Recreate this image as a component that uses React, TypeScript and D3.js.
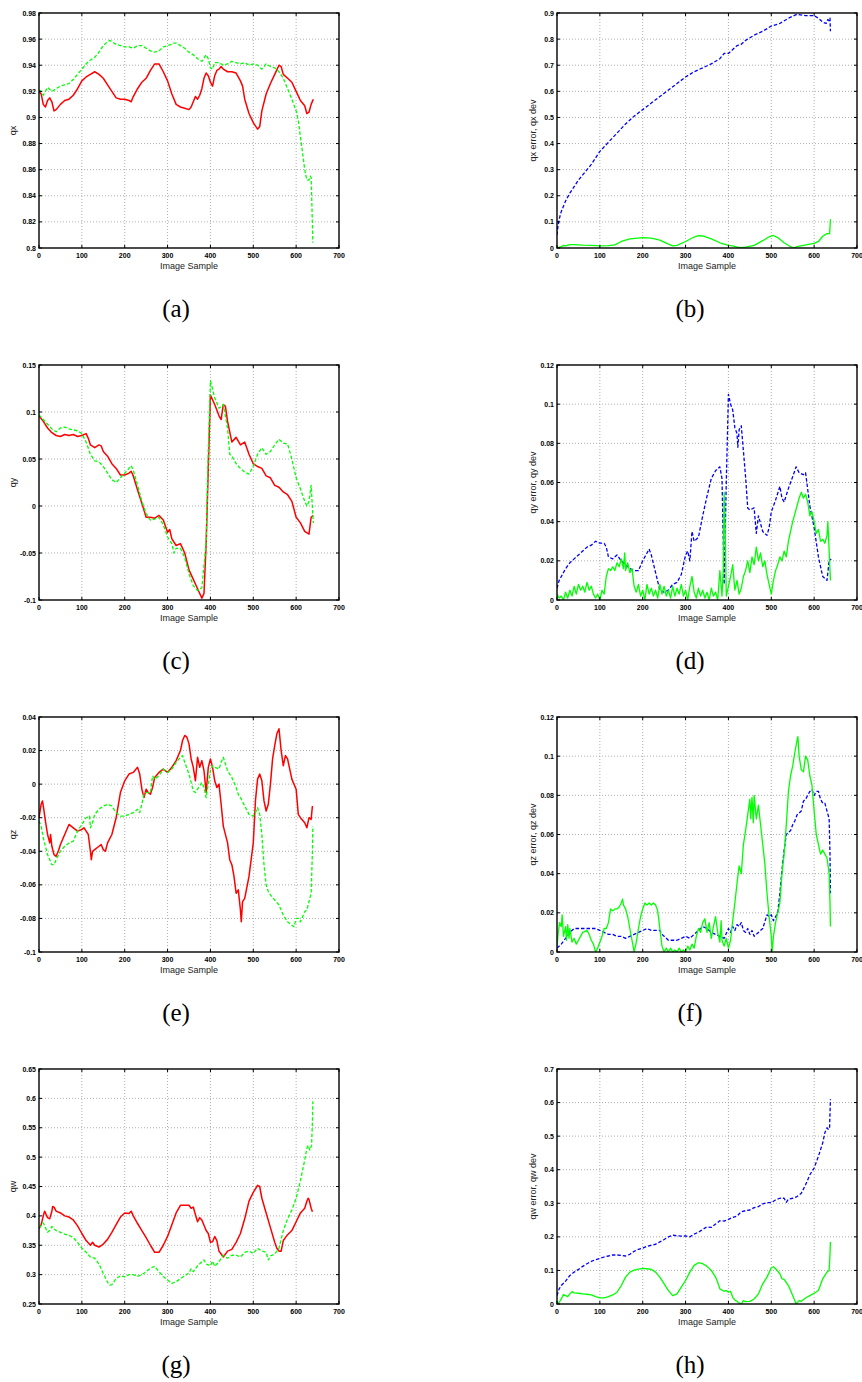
import React from "react";
import * as d3 from "d3";

type P = [number, number];

// ---------- x axis ----------
const xTicks = [0, 100, 200, 300, 400, 500, 600, 700];

// ---------- (a) qx ----------
const qxTicks = [0.8, 0.82, 0.84, 0.86, 0.88, 0.9, 0.92, 0.94, 0.96, 0.98];
const qxEstimate: P[] = [[0,0.920],[5,0.918],[10,0.910],[15,0.908],[20,0.913],[25,0.915],[30,0.912],[35,0.905],[40,0.906],[50,0.910],[60,0.913],[70,0.914],[80,0.917],[90,0.922],[100,0.928],[110,0.931],[120,0.933],[130,0.935],[140,0.933],[150,0.930],[160,0.925],[170,0.920],[180,0.915],[190,0.914],[200,0.914],[210,0.913],[215,0.912],[220,0.916],[230,0.922],[240,0.927],[250,0.930],[260,0.936],[270,0.941],[280,0.941],[290,0.935],[300,0.928],[310,0.918],[320,0.910],[330,0.908],[340,0.907],[350,0.906],[355,0.908],[360,0.912],[365,0.916],[370,0.914],[375,0.917],[380,0.922],[385,0.930],[390,0.934],[395,0.932],[400,0.927],[405,0.924],[410,0.932],[415,0.936],[420,0.937],[425,0.939],[430,0.937],[440,0.935],[450,0.935],[460,0.934],[470,0.928],[475,0.924],[480,0.914],[490,0.903],[500,0.896],[510,0.891],[515,0.893],[520,0.905],[530,0.918],[540,0.926],[550,0.933],[560,0.940],[565,0.939],[570,0.933],[580,0.930],[590,0.927],[600,0.920],[610,0.913],[620,0.909],[625,0.903],[630,0.904],[635,0.910],[640,0.914]];
const qxTruth: P[] = [[0,0.921],[5,0.920],[10,0.917],[15,0.920],[20,0.923],[30,0.920],[40,0.922],[50,0.924],[60,0.925],[70,0.926],[80,0.929],[90,0.933],[100,0.937],[110,0.941],[120,0.944],[130,0.946],[140,0.950],[150,0.955],[160,0.958],[165,0.959],[170,0.958],[180,0.956],[190,0.955],[200,0.954],[210,0.954],[220,0.953],[230,0.955],[240,0.955],[250,0.953],[260,0.951],[270,0.950],[280,0.951],[290,0.954],[300,0.955],[310,0.956],[315,0.957],[320,0.957],[330,0.955],[340,0.953],[350,0.950],[360,0.948],[370,0.945],[380,0.943],[390,0.948],[395,0.945],[400,0.938],[405,0.937],[410,0.942],[420,0.942],[430,0.940],[440,0.941],[450,0.943],[460,0.942],[470,0.941],[480,0.942],[490,0.940],[500,0.941],[510,0.940],[520,0.937],[530,0.941],[540,0.939],[550,0.938],[560,0.935],[570,0.930],[580,0.922],[590,0.914],[600,0.905],[605,0.898],[610,0.885],[615,0.873],[620,0.860],[625,0.852],[630,0.852],[633,0.855],[635,0.854],[637,0.830],[639,0.804]];

// ---------- (b) qx error / dev ----------
const qxErrTicks = [0, 0.1, 0.2, 0.3, 0.4, 0.5, 0.6, 0.7, 0.8, 0.9];
const qxDev: P[] = [[0,0.05],[2,0.08],[5,0.11],[10,0.14],[20,0.18],[30,0.21],[40,0.235],[50,0.26],[60,0.28],[70,0.30],[80,0.32],[90,0.345],[100,0.37],[120,0.405],[140,0.44],[160,0.475],[180,0.505],[200,0.53],[220,0.555],[240,0.58],[260,0.605],[280,0.63],[300,0.655],[320,0.675],[340,0.69],[360,0.705],[380,0.725],[390,0.745],[400,0.745],[410,0.76],[420,0.775],[430,0.78],[440,0.795],[460,0.815],[480,0.83],[500,0.85],[520,0.86],[540,0.88],[560,0.895],[580,0.89],[600,0.89],[610,0.88],[620,0.865],[628,0.86],[632,0.875],[635,0.87],[637,0.88],[638,0.83]];
const qxErr: P[] = [[0,0.0],[10,0.005],[15,0.01],[20,0.008],[30,0.013],[40,0.013],[60,0.011],[80,0.010],[100,0.008],[120,0.009],[135,0.012],[150,0.025],[170,0.035],[200,0.04],[220,0.038],[240,0.03],[260,0.015],[270,0.008],[280,0.01],[300,0.025],[320,0.042],[330,0.047],[340,0.046],[360,0.035],[380,0.02],[400,0.01],[410,0.008],[425,0.001],[440,0.003],[460,0.01],[480,0.028],[495,0.043],[505,0.048],[515,0.04],[530,0.02],[545,0.005],[552,0.0],[560,0.005],[575,0.01],[590,0.015],[600,0.018],[610,0.025],[620,0.045],[630,0.055],[636,0.055],[637,0.08],[638,0.11]];

// ---------- (c) qy ----------
const qyTicks = [-0.1, -0.05, 0, 0.05, 0.1, 0.15];
const qyEstimate: P[] = [[0,0.096],[10,0.090],[20,0.083],[30,0.078],[40,0.075],[50,0.074],[60,0.076],[70,0.075],[80,0.076],[90,0.074],[100,0.075],[110,0.077],[115,0.072],[120,0.065],[130,0.062],[140,0.065],[145,0.064],[150,0.058],[160,0.053],[170,0.045],[180,0.040],[190,0.033],[200,0.033],[210,0.035],[215,0.037],[220,0.032],[230,0.017],[240,0.003],[250,-0.012],[260,-0.012],[270,-0.013],[280,-0.010],[290,-0.015],[300,-0.028],[305,-0.025],[310,-0.035],[320,-0.042],[330,-0.040],[340,-0.050],[350,-0.068],[360,-0.078],[370,-0.088],[380,-0.098],[385,-0.093],[390,-0.04],[395,0.04],[400,0.118],[410,0.108],[420,0.096],[425,0.092],[430,0.108],[435,0.106],[440,0.090],[450,0.068],[460,0.073],[470,0.065],[480,0.068],[490,0.055],[500,0.045],[510,0.042],[520,0.040],[530,0.032],[540,0.030],[550,0.022],[560,0.020],[570,0.015],[580,0.012],[590,0.005],[600,-0.012],[610,-0.018],[620,-0.027],[630,-0.030],[635,-0.012],[640,-0.010]];
const qyTruth: P[] = [[0,0.097],[10,0.092],[20,0.087],[30,0.082],[40,0.079],[50,0.083],[60,0.084],[70,0.082],[80,0.081],[90,0.080],[100,0.077],[110,0.068],[120,0.055],[130,0.048],[140,0.047],[150,0.042],[160,0.035],[170,0.028],[180,0.025],[190,0.030],[200,0.035],[210,0.040],[215,0.043],[220,0.038],[230,0.022],[240,0.005],[250,-0.008],[260,-0.015],[270,-0.014],[280,-0.012],[290,-0.020],[300,-0.033],[310,-0.040],[315,-0.050],[320,-0.045],[330,-0.045],[340,-0.055],[350,-0.072],[360,-0.085],[370,-0.090],[380,-0.087],[390,-0.040],[395,0.060],[400,0.133],[410,0.115],[420,0.104],[430,0.108],[440,0.083],[445,0.055],[450,0.053],[460,0.045],[470,0.040],[480,0.036],[490,0.034],[500,0.042],[510,0.055],[520,0.062],[530,0.055],[540,0.058],[550,0.065],[560,0.071],[570,0.067],[580,0.066],[590,0.050],[600,0.030],[610,0.018],[620,0.005],[625,0.0],[630,0.005],[635,0.022],[640,-0.018]];

// ---------- (d) qy error / dev ----------
const qyErrTicks = [0, 0.02, 0.04, 0.06, 0.08, 0.1, 0.12];
const qyDev: P[] = [[0,0.006],[5,0.010],[10,0.012],[20,0.016],[30,0.019],[40,0.021],[50,0.023],[60,0.025],[70,0.027],[80,0.028],[90,0.030],[100,0.029],[110,0.029],[115,0.027],[120,0.022],[130,0.021],[140,0.023],[150,0.020],[160,0.018],[170,0.016],[180,0.015],[190,0.015],[200,0.020],[210,0.024],[215,0.026],[220,0.023],[230,0.014],[240,0.005],[250,0.004],[260,0.005],[270,0.008],[280,0.009],[290,0.013],[300,0.023],[305,0.025],[310,0.020],[315,0.035],[320,0.030],[330,0.032],[340,0.043],[350,0.053],[360,0.062],[370,0.066],[380,0.068],[385,0.062],[390,0.008],[395,0.060],[400,0.105],[405,0.100],[410,0.097],[415,0.088],[420,0.085],[422,0.078],[425,0.087],[430,0.089],[440,0.063],[445,0.047],[450,0.046],[460,0.047],[465,0.034],[470,0.043],[480,0.035],[490,0.033],[495,0.037],[500,0.045],[510,0.051],[520,0.058],[525,0.052],[530,0.050],[540,0.057],[550,0.063],[558,0.068],[565,0.065],[575,0.064],[580,0.065],[590,0.048],[600,0.037],[610,0.022],[620,0.012],[630,0.010],[635,0.020],[640,0.021]];
const qyErr: P[] = [[0,0.003],[5,0.001],[10,0.002],[15,0.0],[20,0.004],[25,0.001],[30,0.005],[35,0.002],[40,0.007],[45,0.003],[50,0.008],[55,0.005],[60,0.007],[65,0.004],[70,0.009],[75,0.005],[80,0.007],[85,0.003],[90,0.001],[95,0.003],[100,0.0],[105,0.005],[110,0.003],[115,0.012],[120,0.016],[125,0.015],[130,0.017],[135,0.015],[140,0.019],[145,0.017],[150,0.021],[155,0.016],[158,0.024],[160,0.015],[165,0.019],[170,0.014],[175,0.016],[180,0.007],[185,0.004],[190,0.008],[195,0.002],[200,0.005],[205,0.0],[210,0.008],[215,0.003],[220,0.006],[225,0.002],[230,0.005],[235,0.001],[240,0.008],[245,0.003],[250,0.007],[255,0.002],[260,0.005],[265,0.001],[270,0.007],[275,0.002],[280,0.006],[285,0.003],[290,0.008],[295,0.002],[300,0.005],[305,0.0],[310,0.007],[315,0.012],[320,0.004],[325,0.001],[330,0.006],[335,0.002],[340,0.005],[345,0.001],[350,0.004],[355,0.0],[360,0.006],[365,0.002],[370,0.004],[375,0.0],[380,0.015],[385,0.002],[388,0.016],[390,0.055],[393,0.030],[395,0.002],[400,0.007],[405,0.012],[410,0.018],[415,0.005],[420,0.010],[425,0.003],[430,0.006],[435,0.012],[440,0.015],[445,0.020],[450,0.014],[455,0.022],[460,0.018],[465,0.027],[470,0.020],[475,0.024],[480,0.017],[485,0.020],[490,0.013],[495,0.008],[500,0.003],[505,0.010],[510,0.015],[515,0.018],[520,0.022],[525,0.020],[530,0.025],[535,0.022],[540,0.030],[545,0.035],[550,0.040],[555,0.044],[560,0.048],[565,0.052],[570,0.055],[575,0.052],[580,0.054],[585,0.050],[590,0.043],[595,0.045],[600,0.040],[605,0.034],[610,0.036],[615,0.030],[620,0.031],[625,0.029],[630,0.033],[632,0.040],[635,0.025],[638,0.010]];

// ---------- (e) qz ----------
const qzTicks = [-0.1, -0.08, -0.06, -0.04, -0.02, 0, 0.02, 0.04];
const qzEstimate: P[] = [[0,-0.020],[5,-0.012],[8,-0.010],[10,-0.013],[15,-0.022],[20,-0.030],[25,-0.035],[27,-0.030],[30,-0.037],[35,-0.042],[40,-0.043],[45,-0.040],[50,-0.036],[60,-0.030],[70,-0.024],[80,-0.026],[90,-0.028],[100,-0.027],[105,-0.026],[110,-0.028],[115,-0.030],[120,-0.040],[122,-0.045],[125,-0.040],[130,-0.039],[140,-0.037],[145,-0.036],[150,-0.039],[155,-0.040],[160,-0.035],[170,-0.030],[180,-0.020],[190,-0.005],[200,0.002],[210,0.006],[220,0.007],[230,0.010],[235,0.006],[240,-0.003],[245,-0.008],[250,-0.003],[255,-0.005],[260,-0.006],[265,-0.002],[270,0.004],[280,0.007],[290,0.009],[300,0.007],[310,0.010],[320,0.014],[330,0.020],[335,0.026],[340,0.029],[345,0.028],[350,0.024],[355,0.015],[360,0.010],[365,0.002],[370,0.016],[375,0.010],[380,0.014],[385,0.008],[390,-0.005],[395,0.010],[400,0.015],[405,0.010],[410,0.002],[415,-0.002],[420,0.0],[425,-0.012],[430,-0.025],[440,-0.035],[445,-0.045],[450,-0.048],[455,-0.055],[460,-0.065],[465,-0.063],[470,-0.075],[472,-0.082],[475,-0.070],[480,-0.068],[490,-0.055],[500,-0.035],[505,-0.010],[510,0.003],[515,0.006],[520,0.002],[525,-0.010],[530,-0.016],[535,-0.012],[540,0.0],[545,0.015],[550,0.023],[555,0.030],[560,0.033],[565,0.020],[570,0.011],[575,0.017],[580,0.015],[590,0.003],[600,-0.003],[605,-0.018],[610,-0.020],[620,-0.023],[625,-0.026],[630,-0.020],[635,-0.021],[638,-0.013]];
const qzTruth: P[] = [[0,-0.022],[5,-0.025],[10,-0.032],[20,-0.042],[30,-0.048],[35,-0.048],[40,-0.045],[50,-0.040],[60,-0.037],[70,-0.035],[80,-0.034],[90,-0.028],[100,-0.024],[110,-0.020],[118,-0.019],[120,-0.026],[125,-0.023],[130,-0.018],[140,-0.015],[150,-0.013],[160,-0.012],[170,-0.013],[180,-0.017],[190,-0.019],[200,-0.019],[210,-0.018],[220,-0.017],[230,-0.015],[235,-0.017],[240,-0.012],[245,-0.006],[250,-0.005],[260,-0.005],[265,0.005],[270,0.003],[280,0.005],[290,0.009],[300,0.007],[310,0.009],[320,0.013],[330,0.016],[335,0.017],[340,0.013],[350,0.006],[355,0.001],[360,-0.004],[365,-0.005],[370,-0.003],[380,0.001],[385,-0.002],[390,-0.008],[395,0.0],[400,0.008],[405,0.011],[410,0.010],[420,0.009],[425,0.013],[430,0.016],[435,0.012],[440,0.008],[450,0.004],[455,0.001],[460,-0.002],[465,-0.006],[470,-0.008],[480,-0.013],[490,-0.018],[500,-0.019],[505,-0.017],[510,-0.014],[515,-0.018],[520,-0.030],[525,-0.048],[530,-0.060],[535,-0.064],[540,-0.066],[550,-0.069],[560,-0.072],[570,-0.078],[580,-0.082],[590,-0.084],[595,-0.085],[600,-0.080],[605,-0.080],[610,-0.082],[620,-0.076],[625,-0.075],[630,-0.070],[635,-0.065],[638,-0.040],[639,-0.025]];

// ---------- (f) qz error / dev ----------
const qzErrTicks = [0, 0.02, 0.04, 0.06, 0.08, 0.1, 0.12];
const qzDev: P[] = [[0,0.002],[10,0.004],[20,0.007],[30,0.010],[40,0.012],[50,0.012],[60,0.012],[70,0.012],[80,0.012],[90,0.012],[100,0.011],[110,0.010],[120,0.009],[130,0.009],[140,0.008],[150,0.008],[160,0.007],[170,0.008],[180,0.009],[190,0.010],[200,0.011],[210,0.012],[220,0.011],[230,0.011],[240,0.011],[245,0.009],[250,0.008],[260,0.006],[270,0.006],[280,0.006],[290,0.007],[300,0.008],[310,0.007],[320,0.009],[330,0.011],[340,0.013],[350,0.012],[360,0.010],[370,0.009],[380,0.008],[390,0.007],[400,0.012],[405,0.010],[410,0.013],[415,0.011],[420,0.014],[425,0.013],[430,0.015],[435,0.011],[440,0.010],[445,0.012],[450,0.009],[455,0.011],[460,0.008],[470,0.010],[480,0.012],[490,0.019],[495,0.018],[500,0.019],[505,0.016],[510,0.018],[515,0.020],[520,0.030],[525,0.042],[530,0.052],[535,0.060],[540,0.061],[545,0.062],[550,0.065],[555,0.067],[560,0.070],[570,0.072],[575,0.077],[580,0.078],[590,0.082],[595,0.083],[600,0.080],[605,0.082],[610,0.082],[615,0.078],[620,0.076],[625,0.076],[630,0.072],[635,0.068],[637,0.050],[638,0.030]];
const qzErr: P[] = [[0,0.003],[3,0.010],[6,0.015],[10,0.013],[12,0.019],[15,0.008],[20,0.013],[22,0.006],[25,0.014],[28,0.007],[30,0.012],[35,0.005],[40,0.007],[45,0.004],[50,0.006],[55,0.008],[60,0.010],[70,0.011],[75,0.009],[80,0.006],[85,0.004],[90,0.0],[95,0.002],[100,0.005],[105,0.008],[110,0.012],[115,0.012],[120,0.015],[125,0.022],[130,0.021],[135,0.022],[140,0.022],[145,0.023],[150,0.025],[153,0.027],[155,0.024],[160,0.022],[165,0.018],[170,0.012],[175,0.006],[180,0.0],[185,0.005],[190,0.012],[195,0.018],[200,0.022],[205,0.025],[210,0.024],[215,0.025],[220,0.024],[225,0.025],[230,0.024],[235,0.021],[240,0.012],[245,0.003],[250,0.0],[255,0.002],[260,0.0],[265,0.002],[270,0.0],[275,0.001],[280,0.0],[285,0.002],[290,0.0],[295,0.001],[300,0.0],[305,0.003],[310,0.001],[315,0.004],[320,0.002],[325,0.008],[330,0.012],[335,0.010],[340,0.015],[345,0.017],[350,0.010],[355,0.015],[360,0.007],[365,0.013],[370,0.018],[375,0.010],[380,0.005],[383,0.016],[385,0.006],[390,0.003],[395,0.007],[400,0.002],[405,0.006],[410,0.016],[415,0.025],[420,0.035],[425,0.044],[430,0.040],[435,0.055],[440,0.062],[445,0.070],[450,0.078],[452,0.068],[455,0.079],[458,0.066],[460,0.080],[465,0.068],[470,0.075],[475,0.065],[480,0.055],[485,0.045],[490,0.030],[495,0.018],[500,0.008],[502,0.0],[505,0.008],[510,0.015],[515,0.020],[520,0.025],[525,0.040],[530,0.050],[535,0.065],[540,0.082],[545,0.090],[550,0.095],[555,0.102],[560,0.108],[562,0.110],[565,0.100],[570,0.093],[575,0.092],[580,0.100],[585,0.098],[590,0.090],[595,0.085],[600,0.072],[605,0.060],[610,0.055],[615,0.050],[620,0.052],[625,0.050],[630,0.048],[635,0.040],[637,0.025],[638,0.013]];

// ---------- (g) qw ----------
const qwTicks = [0.25, 0.3, 0.35, 0.4, 0.45, 0.5, 0.55, 0.6, 0.65];
const qwEstimate: P[] = [[0,0.378],[5,0.385],[10,0.400],[13,0.408],[15,0.405],[20,0.397],[25,0.395],[30,0.408],[32,0.416],[35,0.415],[40,0.408],[50,0.405],[60,0.400],[70,0.398],[80,0.393],[90,0.383],[100,0.370],[110,0.358],[120,0.350],[125,0.355],[130,0.350],[140,0.347],[150,0.352],[160,0.360],[170,0.372],[180,0.385],[190,0.398],[200,0.405],[210,0.404],[215,0.408],[220,0.400],[230,0.387],[240,0.375],[250,0.363],[260,0.350],[270,0.338],[280,0.338],[290,0.350],[300,0.365],[310,0.385],[320,0.405],[330,0.418],[340,0.418],[350,0.418],[355,0.413],[360,0.415],[365,0.402],[370,0.390],[375,0.397],[380,0.393],[390,0.375],[395,0.370],[400,0.355],[405,0.356],[410,0.365],[415,0.358],[420,0.340],[425,0.335],[430,0.330],[440,0.340],[450,0.343],[460,0.355],[470,0.370],[480,0.395],[490,0.425],[500,0.440],[510,0.452],[515,0.450],[520,0.430],[530,0.405],[540,0.380],[550,0.355],[555,0.345],[560,0.340],[565,0.340],[570,0.358],[580,0.368],[590,0.375],[600,0.390],[610,0.405],[620,0.413],[625,0.425],[628,0.430],[630,0.428],[635,0.413],[638,0.407]];
const qwTruth: P[] = [[0,0.380],[5,0.383],[10,0.388],[15,0.380],[20,0.372],[25,0.375],[30,0.382],[35,0.378],[40,0.375],[50,0.372],[60,0.369],[70,0.367],[80,0.363],[90,0.355],[100,0.345],[110,0.338],[120,0.330],[130,0.328],[140,0.318],[150,0.302],[160,0.287],[165,0.282],[170,0.283],[180,0.293],[190,0.298],[200,0.296],[210,0.300],[220,0.300],[230,0.297],[240,0.300],[250,0.305],[260,0.311],[270,0.314],[280,0.305],[290,0.297],[300,0.291],[310,0.285],[320,0.288],[330,0.293],[340,0.298],[350,0.303],[355,0.310],[360,0.305],[370,0.315],[380,0.322],[385,0.325],[390,0.318],[400,0.315],[405,0.323],[410,0.314],[415,0.318],[420,0.322],[430,0.333],[440,0.328],[450,0.333],[460,0.333],[470,0.330],[480,0.338],[490,0.340],[500,0.336],[510,0.345],[520,0.340],[530,0.338],[535,0.325],[540,0.332],[550,0.335],[560,0.345],[570,0.375],[580,0.395],[590,0.410],[600,0.430],[610,0.460],[620,0.495],[625,0.515],[628,0.520],[632,0.512],[636,0.520],[638,0.560],[639,0.595]];

// ---------- (h) qw error / dev ----------
const qwErrTicks = [0, 0.1, 0.2, 0.3, 0.4, 0.5, 0.6, 0.7];
const qwDev: P[] = [[0,0.025],[5,0.045],[10,0.055],[20,0.068],[30,0.085],[40,0.095],[50,0.103],[60,0.112],[70,0.120],[80,0.127],[90,0.132],[100,0.136],[110,0.140],[120,0.143],[130,0.146],[140,0.146],[150,0.145],[160,0.143],[170,0.148],[180,0.157],[190,0.163],[200,0.166],[210,0.172],[220,0.175],[230,0.178],[240,0.185],[250,0.192],[260,0.200],[270,0.205],[280,0.203],[290,0.202],[300,0.203],[310,0.200],[320,0.208],[330,0.214],[340,0.222],[350,0.230],[360,0.228],[370,0.238],[380,0.248],[390,0.247],[400,0.252],[410,0.258],[420,0.262],[430,0.275],[440,0.278],[450,0.280],[460,0.287],[470,0.290],[480,0.298],[490,0.302],[500,0.302],[510,0.310],[520,0.315],[530,0.315],[535,0.303],[540,0.312],[550,0.315],[560,0.320],[570,0.330],[580,0.355],[590,0.385],[600,0.405],[610,0.440],[620,0.480],[625,0.510],[630,0.525],[633,0.520],[636,0.525],[638,0.610]];
const qwErr: P[] = [[0,0.0],[5,0.005],[10,0.015],[15,0.028],[20,0.025],[25,0.022],[30,0.030],[35,0.037],[40,0.033],[50,0.032],[60,0.030],[70,0.029],[80,0.027],[90,0.022],[100,0.018],[110,0.018],[120,0.022],[130,0.027],[140,0.035],[150,0.055],[160,0.080],[170,0.095],[180,0.101],[190,0.104],[200,0.106],[210,0.105],[220,0.103],[230,0.095],[240,0.080],[250,0.060],[260,0.040],[270,0.025],[280,0.030],[290,0.050],[300,0.070],[310,0.095],[320,0.115],[330,0.123],[340,0.120],[350,0.112],[360,0.100],[370,0.080],[375,0.065],[380,0.045],[390,0.038],[395,0.040],[400,0.035],[405,0.038],[410,0.020],[415,0.012],[420,0.008],[425,0.003],[430,0.0],[435,0.010],[440,0.007],[450,0.008],[460,0.015],[470,0.030],[480,0.060],[490,0.080],[500,0.108],[505,0.111],[510,0.105],[520,0.090],[525,0.075],[530,0.073],[540,0.055],[550,0.025],[555,0.010],[558,0.0],[565,0.010],[570,0.008],[580,0.018],[590,0.025],[600,0.032],[610,0.040],[620,0.075],[630,0.095],[635,0.100],[637,0.150],[638,0.185]];

const RED = "#ff0000";
const GREEN = "#00ff00";
const BLUE = "#0000ff";
const DASH = "3.5,2";

type Series = { data: P[]; color: string; dash: string | null; width: number };
type Panel = {
  caption: string;
  col: number;
  row: number;
  ticks: number[];
  ylabel: string;
  series: Series[];
};

const panels: Panel[] = [
  { caption: "(a)", col: 0, row: 0, ticks: qxTicks, ylabel: "qx", series: [
    { data: qxEstimate, color: RED, dash: null, width: 1.5 },
    { data: qxTruth, color: GREEN, dash: DASH, width: 1.3 } ] },
  { caption: "(b)", col: 1, row: 0, ticks: qxErrTicks, ylabel: "qx error, qx dev", series: [
    { data: qxDev, color: BLUE, dash: DASH, width: 1.3 },
    { data: qxErr, color: GREEN, dash: null, width: 1.3 } ] },
  { caption: "(c)", col: 0, row: 1, ticks: qyTicks, ylabel: "qy", series: [
    { data: qyEstimate, color: RED, dash: null, width: 1.5 },
    { data: qyTruth, color: GREEN, dash: DASH, width: 1.3 } ] },
  { caption: "(d)", col: 1, row: 1, ticks: qyErrTicks, ylabel: "qy error, qy dev", series: [
    { data: qyDev, color: BLUE, dash: DASH, width: 1.3 },
    { data: qyErr, color: GREEN, dash: null, width: 1.3 } ] },
  { caption: "(e)", col: 0, row: 2, ticks: qzTicks, ylabel: "qz", series: [
    { data: qzEstimate, color: RED, dash: null, width: 1.5 },
    { data: qzTruth, color: GREEN, dash: DASH, width: 1.3 } ] },
  { caption: "(f)", col: 1, row: 2, ticks: qzErrTicks, ylabel: "qz error, qz dev", series: [
    { data: qzDev, color: BLUE, dash: DASH, width: 1.3 },
    { data: qzErr, color: GREEN, dash: null, width: 1.3 } ] },
  { caption: "(g)", col: 0, row: 3, ticks: qwTicks, ylabel: "qw", series: [
    { data: qwEstimate, color: RED, dash: null, width: 1.5 },
    { data: qwTruth, color: GREEN, dash: DASH, width: 1.3 } ] },
  { caption: "(h)", col: 1, row: 3, ticks: qwErrTicks, ylabel: "qw error, qw dev", series: [
    { data: qwDev, color: BLUE, dash: DASH, width: 1.3 },
    { data: qwErr, color: GREEN, dash: null, width: 1.3 } ] },
];

const W = 862;
const H = 1382;
const colLeft = [39, 557];
const colCaption = [176, 690];
const plotW = 300;
const plotH = 235;
const rowTop = [13, 365, 717, 1069];
const fmt = (v: number) => String(+v.toFixed(3));
const tickFont = "'Liberation Sans', Arial, Helvetica, sans-serif";

function PanelView({ p }: { p: Panel }) {
  const x0 = colLeft[p.col];
  const y0 = rowTop[p.row];
  const x = d3.scaleLinear().domain([0, 700]).range([x0, x0 + plotW]);
  const y = d3
    .scaleLinear()
    .domain([p.ticks[0], p.ticks[p.ticks.length - 1]])
    .range([y0 + plotH, y0]);
  const line = d3
    .line<P>()
    .x((d) => x(d[0]))
    .y((d) => y(d[1]))
    .curve(d3.curveLinear);
  const tl = 3;
  const yb = y0 + plotH;
  const labelX = p.col === 0 ? x0 - 23 : x0 - 21;
  const cid = "clip" + p.caption.replace(/[()]/g, "");
  return (
    <g>
      {/* grid */}
      {xTicks.slice(1, -1).map((t) => (
        <line key={"gx" + t} x1={x(t)} x2={x(t)} y1={y0} y2={yb} stroke="#9a9a9a" strokeWidth={0.8} strokeDasharray="1,2" />
      ))}
      {p.ticks.slice(1, -1).map((t) => (
        <line key={"gy" + t} x1={x0} x2={x0 + plotW} y1={y(t)} y2={y(t)} stroke="#9a9a9a" strokeWidth={0.8} strokeDasharray="1,2" />
      ))}
      {/* series */}
      <clipPath id={cid}>
        <rect x={x0} y={y0} width={plotW} height={plotH} />
      </clipPath>
      <g clipPath={`url(#${cid})`}>
        {p.series.map((s, i) => (
          <path key={i} d={line(s.data) || ""} fill="none" stroke={s.color} strokeWidth={s.width} strokeDasharray={s.dash || undefined} strokeLinejoin="round" />
        ))}
      </g>
      {/* ticks */}
      {xTicks.map((t) => (
        <g key={"tx" + t}>
          <line x1={x(t)} x2={x(t)} y1={yb} y2={yb - tl} stroke="#000" strokeWidth={1} />
          <line x1={x(t)} x2={x(t)} y1={y0} y2={y0 + tl} stroke="#000" strokeWidth={1} />
          <text x={x(t)} y={yb + 10} textAnchor="middle" fontSize={7} fontWeight="bold" fontFamily={tickFont} fill="#000">
            {fmt(t)}
          </text>
        </g>
      ))}
      {p.ticks.map((t) => (
        <g key={"ty" + t}>
          <line x1={x0} x2={x0 + tl} y1={y(t)} y2={y(t)} stroke="#000" strokeWidth={1} />
          <line x1={x0 + plotW} x2={x0 + plotW - tl} y1={y(t)} y2={y(t)} stroke="#000" strokeWidth={1} />
          <text x={x0 - 3} y={y(t) + 2.5} textAnchor="end" fontSize={7} fontWeight="bold" fontFamily={tickFont} fill="#000">
            {fmt(t)}
          </text>
        </g>
      ))}
      {/* frame */}
      <rect x={x0} y={y0} width={plotW} height={plotH} fill="none" stroke="#000" strokeWidth={1.4} />
      {/* labels */}
      <text x={x0 + plotW / 2} y={yb + 21} textAnchor="middle" fontSize={9} fontFamily={tickFont} fill="#222">
        Image Sample
      </text>
      <text
        transform={`translate(${labelX},${y0 + plotH / 2}) rotate(-90)`}
        textAnchor="middle"
        fontSize={9}
        fontFamily={tickFont}
        fill="#222"
      >
        {p.ylabel}
      </text>
      <text x={colCaption[p.col]} y={yb + 69} textAnchor="middle" fontSize={25} fontFamily="'Liberation Serif', 'DejaVu Serif', serif" fill="#000">
        {p.caption}
      </text>
    </g>
  );
}

export default function App() {
  return (
    <svg
      width={W}
      height={H}
      viewBox={`0 0 ${W} ${H}`}
      style={{ position: "absolute", left: 0, top: 0, display: "block", background: "#fff" }}
    >
      <rect x={0} y={0} width={W} height={H} fill="#fff" />
      {panels.map((p) => (
        <PanelView key={p.caption} p={p} />
      ))}
    </svg>
  );
}
